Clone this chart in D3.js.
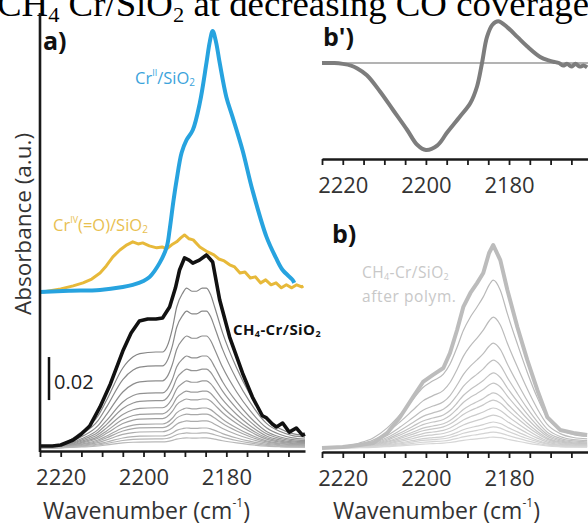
<!DOCTYPE html>
<html><head><meta charset="utf-8">
<script src="https://cdn.jsdelivr.net/npm/d3@7"></script>
<style>body{margin:0;background:#fff}svg{display:block}</style>
</head><body><svg id="c" width="588" height="524" font-family="'Open Sans',sans-serif"></svg>
<script>
// ---------- data ----------
const wnTicks = [2225,2220,2215,2210,2205,2200,2195,2190,2185,2180,2175,2170,2165];
const wnLabels = [2220,2200,2180];
const wnDomain = [2225, 2161];

// panel a: CH4-Cr/SiO2 (highest coverage), absorbance
const chCrA = [[2225,0.0009],[2222,0.0009],[2220,0.0014],[2217,0.0037],[2215,0.0065],[2213,0.0102],[2210.5,0.0191],[2208,0.0298],[2205,0.0451],[2203,0.0535],[2201,0.0591],[2199,0.0600],[2197,0.0600],[2195.4,0.0605],[2193.7,0.0656],[2192.3,0.0744],[2191.3,0.0828],[2190.1,0.0884],[2189,0.0874],[2188.1,0.0860],[2186.5,0.0874],[2184.8,0.0898],[2183.3,0.0865],[2181.6,0.0688],[2179.2,0.0516],[2176.1,0.0349],[2173.7,0.0237],[2171.3,0.0150],[2170.3,0.0140],[2168.9,0.0112],[2167.9,0.0098],[2166.4,0.0116],[2164.8,0.0074],[2163.1,0.0093],[2161.6,0.0060],[2161,0.0065]];
// panel a: Cr(II)/SiO2 reference
const crII = [[2225,0],[2218,0.0005],[2210.5,0.0009],[2205,0.0023],[2202.6,0.0033],[2200,0.0051],[2198.5,0.0070],[2196.1,0.0135],[2194.4,0.0209],[2193.7,0.0288],[2192.8,0.0419],[2192,0.0521],[2190.8,0.0647],[2189.6,0.0707],[2188.1,0.0753],[2186.4,0.0879],[2184.8,0.1065],[2184,0.1163],[2183.3,0.1214],[2182.5,0.1163],[2181.6,0.1065],[2180,0.0907],[2178.5,0.0814],[2176.1,0.0660],[2173.7,0.0474],[2170.3,0.0256],[2168,0.0158],[2166.4,0.0102],[2164,0.0056],[2163.6,0.0042]];
// panel a: Cr(IV)(=O)/SiO2 reference
const crIV = [[2224.3,0],[2220,0.0014],[2217,0.0028],[2214.6,0.0042],[2212.5,0.0060],[2210.5,0.0088],[2209,0.0121],[2207.4,0.0163],[2205.7,0.0195],[2204,0.0219],[2202.6,0.0233],[2201.3,0.0223],[2200.2,0.0228],[2198.6,0.0214],[2196.8,0.0205],[2195.5,0.0209],[2194.4,0.0200],[2193.2,0.0219],[2192,0.0233],[2191,0.0251],[2190.1,0.0265],[2189,0.0247],[2188,0.0242],[2186.4,0.0209],[2184.5,0.0186],[2183,0.0172],[2181.8,0.0153],[2180.5,0.0144],[2179.2,0.0126],[2178,0.0116],[2176.7,0.0088],[2175.5,0.0093],[2174.2,0.0065],[2173,0.0070],[2171.7,0.0042],[2170.5,0.0056],[2169.2,0.0033],[2168,0.0042],[2166.7,0.0019],[2165.5,0.0033],[2164.2,0.0019],[2163,0.0033],[2161.8,0.0023],[2161.4,0.0028]];
const refOffset = 0.0726; // vertical offset of the two reference spectra

// panel a: thin spectra at decreasing CO coverage (normalised shape + peak heights)
const grayShapeA = [[2225,0],[2220,0.02],[2215,0.1],[2211,0.2],[2208.9,0.3],[2205,0.5],[2202.5,0.57],[2200.9,0.59],[2197,0.6],[2195.4,0.6],[2194.4,0.63],[2193,0.75],[2192,0.88],[2190.5,0.97],[2189.6,1.0],[2188.3,0.98],[2187.2,0.98],[2185.8,1.0],[2184.8,1.0],[2183.8,0.96],[2182.8,0.88],[2180.9,0.72],[2177.5,0.5],[2174.4,0.34],[2170.3,0.18],[2167,0.12],[2164,0.09],[2161,0.08]];
const grayPeaksA = [0.0744,0.0637,0.0521,0.0428,0.0367,0.0312,0.0265,0.0228,0.0186,0.0158,0.0126,0.0093,0.0070,0.0047];

// panel b: CH4-Cr/SiO2 after polymerisation
const chCrB = [[2225,0],[2220,0.0005],[2216,0.0014],[2212.7,0.0023],[2209.3,0.0070],[2206.2,0.0144],[2203.1,0.0237],[2200.7,0.0307],[2198.3,0.0340],[2195.8,0.0372],[2194.2,0.0442],[2192.5,0.0549],[2191,0.0656],[2189.3,0.0721],[2187.7,0.0767],[2186.2,0.0814],[2184.8,0.0907],[2183.8,0.0944],[2182.1,0.0874],[2180.4,0.0735],[2178,0.0563],[2175.6,0.0409],[2173.2,0.0270],[2170.8,0.0144],[2167.7,0.0084],[2164.5,0.0070],[2161.2,0.0060]];
const grayShapeB = [[2225,0],[2220,0.01],[2216,0.03],[2212.7,0.06],[2209.3,0.12],[2206.2,0.2],[2203.1,0.29],[2200.7,0.36],[2198.3,0.4],[2195.8,0.44],[2194.2,0.5],[2192.5,0.6],[2191,0.7],[2189.3,0.78],[2187.7,0.84],[2186.2,0.9],[2184.8,0.97],[2183.8,1.0],[2182.1,0.94],[2180.4,0.8],[2178,0.62],[2175.6,0.45],[2173.2,0.3],[2170.8,0.18],[2167.7,0.11],[2164.5,0.08],[2161.2,0.07]];
const grayPeaksB = [0.0781,0.0609,0.0488,0.0409,0.0349,0.0302,0.0256,0.0223,0.0186,0.0153,0.0121,0.0098,0.0074,0.0051];

// panel b': difference spectrum (a.u.)
const diffBp = [[2225,0],[2222,0],[2220,-0.01],[2218,-0.03],[2216.6,-0.06],[2214.2,-0.14],[2211,-0.33],[2207.9,-0.54],[2204.5,-0.77],[2202.1,-0.94],[2200,-1.0],[2197.3,-0.95],[2194.9,-0.8],[2191.7,-0.61],[2189.3,-0.46],[2187.7,-0.27],[2186.5,0],[2185.3,0.3],[2184,0.44],[2182.6,0.48],[2180.4,0.41],[2178,0.3],[2175.6,0.19],[2172.5,0.07],[2170.5,0.03],[2169.3,0.015],[2168,0.0],[2167,-0.03],[2166,-0.01],[2165,-0.04],[2164,-0.01],[2163,-0.04],[2162,-0.03],[2161.2,-0.05]];
const scaleBarValue = 0.02;
const scaleBarTop = 0.0423;

// ---------- drawing ----------
const svg = d3.select("#c");

// title (cropped at top)
const title = svg.append("text").attr("x",-3).attr("y",16)
  .style("font-family","'Liberation Serif','Times New Roman',serif").attr("font-size",36).attr("fill","#000")
  .attr("textLength",592).attr("lengthAdjust","spacingAndGlyphs");
title.append("tspan").text("CH");
title.append("tspan").text("4").attr("font-size",22).attr("dy",6);
title.append("tspan").text(" Cr/SiO").attr("dy",-6);
title.append("tspan").text("2").attr("font-size",22).attr("dy",6);
title.append("tspan").text(" at decreasing CO coverage").attr("dy",-6);

const xA = d3.scaleLinear().domain(wnDomain).range([40,305]);
const xB = d3.scaleLinear().domain(wnDomain).range([322,588]);
const yAbs = d3.scaleLinear().domain([0,0.2]).range([448,18]);
const yBp = d3.scaleLinear().domain([-1,0.5]).range([150,19.5]);

function xAxis(g, x, y){
  const ax = d3.axisBottom(x).tickValues(wnTicks).tickSize(6).tickSizeOuter(0).tickPadding(12)
    .tickFormat(d => wnLabels.includes(d) ? d : "");
  const gg = svg.append("g").attr("transform",`translate(0,${y})`).call(ax);
  gg.attr("font-family","'Open Sans',sans-serif");
  gg.select(".domain").attr("stroke","#1a1a1a").attr("stroke-width",2.6);
  gg.selectAll(".tick line").attr("stroke","#1a1a1a").attr("stroke-width",1.8);
  gg.selectAll(".tick text").attr("font-size",22).attr("fill","#333");
  return gg;
}

// ----- panel a -----
const lineA = (xs, ys, curve) => d3.line().x(d=>xs(d[0])).y(d=>ys(d[1])).curve(curve||d3.curveMonotoneX);
const grayColA = d3.scaleLinear().domain([0,grayPeaksA.length-1]).range(["#858585","#b8b8b8"]);
grayPeaksA.forEach((p,i)=>{
  svg.append("path").datum(grayShapeA.map(d=>[d[0],d[1]*p]))
    .attr("d", lineA(xA,yAbs)).attr("fill","none").attr("stroke",grayColA(i)).attr("stroke-width",1.2);
});
svg.append("path").datum(chCrA).attr("d", lineA(xA,yAbs, d3.curveLinear))
  .attr("fill","none").attr("stroke","#111").attr("stroke-width",3.6).attr("stroke-linejoin","round");
svg.append("path").datum(crIV.map(d=>[d[0],d[1]+refOffset])).attr("d", lineA(xA,yAbs, d3.curveLinear))
  .attr("fill","none").attr("stroke","#e7b93a").attr("stroke-width",3).attr("stroke-linejoin","round");
svg.append("path").datum(crII.map(d=>[d[0],d[1]+refOffset])).attr("d", lineA(xA,yAbs, d3.curveCatmullRom))
  .attr("fill","none").attr("stroke","#27a3df").attr("stroke-width",4).attr("stroke-linejoin","round");

// y axis line a
svg.append("line").attr("x1",40).attr("x2",40).attr("y1",13).attr("y2",452)
  .attr("stroke","#1a1a1a").attr("stroke-width",2.6);
xAxis(svg, xA, 451);

// scale bar
svg.append("line").attr("x1",49).attr("x2",49)
  .attr("y1",yAbs(scaleBarTop)).attr("y2",yAbs(scaleBarTop-scaleBarValue))
  .attr("stroke","#111").attr("stroke-width",2.5);
svg.append("text").attr("x",54).attr("y",389).attr("font-size",20).attr("fill","#222").text(scaleBarValue.toFixed(2));

// labels a
svg.append("text").attr("x",43).attr("y",50).attr("font-size",25).attr("font-weight",700).attr("fill","#111").text("a)");
const tII = svg.append("text").attr("x",135).attr("y",84).attr("font-size",16.5).attr("fill","#3ba3db");
tII.append("tspan").text("Cr");
tII.append("tspan").text("II").attr("font-size",9).attr("dy",-8);
tII.append("tspan").text("/SiO").attr("dy",8);
tII.append("tspan").text("2").attr("font-size",10).attr("dy",2);
const tIV = svg.append("text").attr("x",53).attr("y",231).attr("font-size",16.5).attr("fill","#e8c050");
tIV.append("tspan").text("Cr");
tIV.append("tspan").text("IV").attr("font-size",9).attr("dy",-8);
tIV.append("tspan").text("(=O)/SiO").attr("dy",8);
tIV.append("tspan").text("2").attr("font-size",10).attr("dy",2);
const tCH = svg.append("text").attr("x",233).attr("y",335).attr("font-size",15).attr("font-weight",700)
  .attr("letter-spacing",0.4).attr("fill","#111");
tCH.append("tspan").text("CH");
tCH.append("tspan").text("4").attr("font-size",9).attr("dy",2);
tCH.append("tspan").text("-Cr/SiO").attr("dy",-2);
tCH.append("tspan").text("2").attr("font-size",9).attr("dy",2);

// y label
svg.append("text").attr("transform","translate(31,224) rotate(-90)").attr("text-anchor","middle")
  .attr("font-size",22.5).attr("fill","#333").text("Absorbance (a.u.)");

// x labels
function xLabel(x){
  const t = svg.append("text").attr("x",x).attr("y",519).attr("font-size",23).attr("fill","#333");
  t.append("tspan").text("Wavenumber (cm");
  t.append("tspan").text("-1").attr("font-size",12).attr("dy",-12);
  t.append("tspan").text(")").attr("dy",12);
}
xLabel(43); xLabel(333);

// ----- panel b' -----
svg.append("line").attr("x1",322).attr("x2",588).attr("y1",yBp(0)).attr("y2",yBp(0))
  .attr("stroke","#9a9a9a").attr("stroke-width",1.5);
svg.append("path").datum(diffBp).attr("d", lineA(xB,yBp, d3.curveCatmullRom))
  .attr("fill","none").attr("stroke","#7d7d7d").attr("stroke-width",4).attr("stroke-linejoin","round");
xAxis(svg, xB, 159);
svg.append("text").attr("x",323).attr("y",46).attr("font-size",25).attr("font-weight",700).attr("fill","#111").text("b')");

// ----- panel b -----
const grayColB = d3.scaleLinear().domain([0,grayPeaksB.length-1]).range(["#b9b9b9","#d6d6d6"]);
grayPeaksB.forEach((p,i)=>{
  svg.append("path").datum(grayShapeB.map(d=>[d[0],d[1]*p]))
    .attr("d", lineA(xB,yAbs)).attr("fill","none").attr("stroke",grayColB(i)).attr("stroke-width",1.2);
});
svg.append("path").datum(chCrB).attr("d", lineA(xB,yAbs, d3.curveLinear))
  .attr("fill","none").attr("stroke","#bcbcbc").attr("stroke-width",4).attr("stroke-linejoin","round");
xAxis(svg, xB, 452);
svg.append("text").attr("x",332).attr("y",243).attr("font-size",25).attr("font-weight",700).attr("fill","#111").text("b)");
const tP = svg.append("text").attr("x",362).attr("y",278).attr("font-size",15.5).attr("letter-spacing",0.4).attr("fill","#c8c8c8");
tP.append("tspan").text("CH");
tP.append("tspan").text("4").attr("font-size",9).attr("dy",2);
tP.append("tspan").text("-Cr/SiO").attr("dy",-2);
tP.append("tspan").text("2").attr("font-size",9).attr("dy",2);
svg.append("text").attr("x",362).attr("y",302).attr("font-size",15.5).attr("letter-spacing",0.6).attr("fill","#c8c8c8").text("after polym.");
</script></body></html>
